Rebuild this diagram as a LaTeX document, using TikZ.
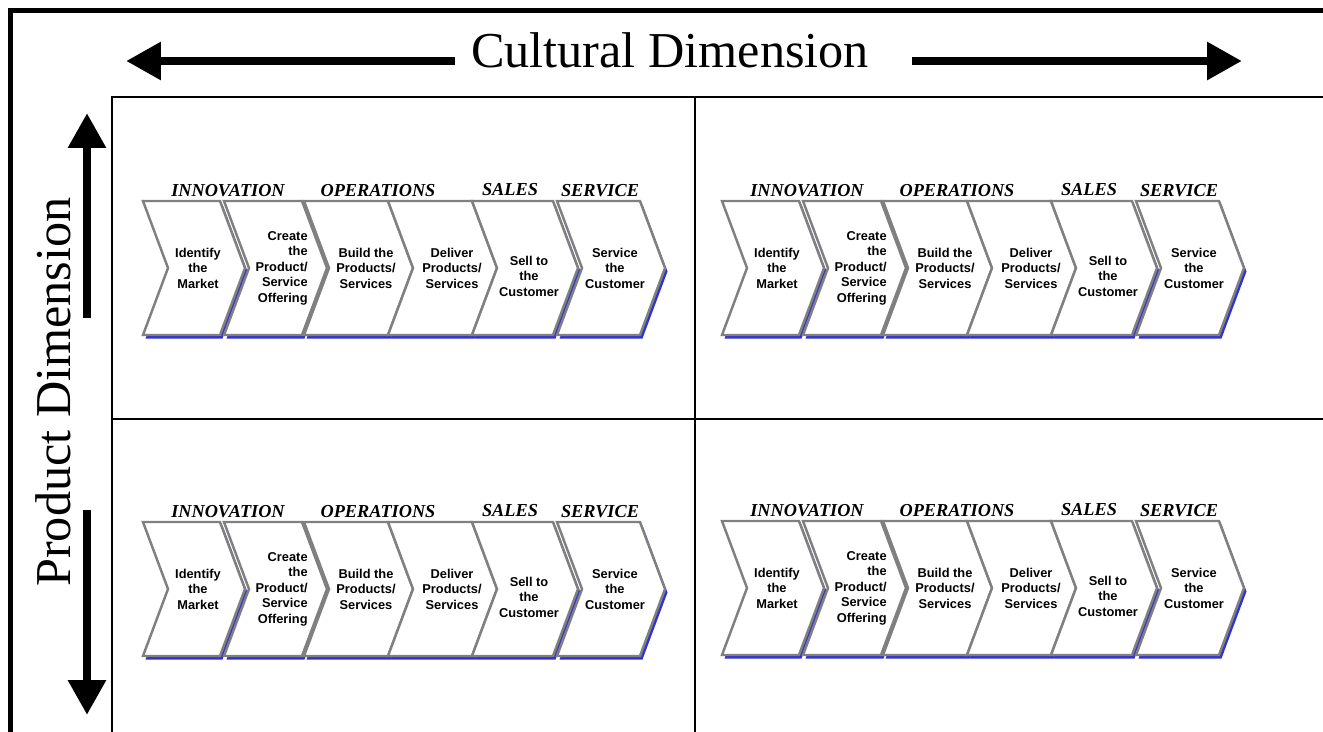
\documentclass[tikz,border=0pt]{standalone}
\usepackage{fontspec}
\setmainfont{Liberation Serif}
\newfontfamily\chevfont{Liberation Sans}
\usepackage{tikz}
\usetikzlibrary{arrows.meta}

\definecolor{chevgray}{HTML}{808080}
\definecolor{chevblue}{HTML}{3333CC}

% one chevron: top-left x, top-right x
\newcommand{\chevron}[2]{%
  \fill[chevblue, shift={(2.5,3.5)}] (#1,201) -- (#2,201) -- (#2+25,268) -- (#2,335) -- (#1,335) -- (#1+25,268) -- cycle;
  \filldraw[chevbox] (#1,201) -- (#2,201) -- (#2+25,268) -- (#2,335) -- (#1,335) -- (#1+25,268) -- cycle;}

\begin{document}
\begin{tikzpicture}[
        x=0.02cm, y=-0.02cm,
        frame/.style={line width=2.55pt},
        grid/.style={line width=0.85pt},
        dimarrow/.style={line width=5.1pt, -{Triangle[length=19.8pt, width=20.4pt]}},
        dimlabel/.style={font=\fontsize{28.6}{34}\selectfont, inner sep=0pt},
        stage/.style={font=\fontsize{10.4}{12}\selectfont\bfseries\itshape, anchor=base, inner sep=0pt},
        chevbox/.style={draw=chevgray, fill=white, line width=1.4pt},
        activity/.style={font=\chevfont\bfseries\fontsize{7.3}{8.8}\selectfont, align=center, inner sep=0pt}
    ]
        \useasboundingbox (0,0) rectangle (1323,731);

        % frame and quadrants
        \draw[frame] (10.5,740) -- (10.5,10.5) -- (1330,10.5);
        \draw[grid] (112,740) -- (112,97) -- (1330,97);
        \draw[grid] (695,97) -- (695,740);
        \draw[grid] (112,419) -- (1330,419);

        % dimensions
        \node[dimlabel] (cult) at (670,50) {Cultural Dimension};
        \coordinate (cultLs) at (455,61);
        \coordinate (cultLe) at (126,61);
        \coordinate (cultRs) at (912,61);
        \coordinate (cultRe) at (1242,61);
        \draw[dimarrow] (cultLs) -- (cultLe);
        \draw[dimarrow] (cultRs) -- (cultRe);

        \node[dimlabel, rotate=90] (prod) at (53,392) {Product Dimension};
        \coordinate (prodUs) at (87,318);
        \coordinate (prodUe) at (87,113);
        \coordinate (prodDs) at (87,510);
        \coordinate (prodDe) at (87,715);
        \draw[dimarrow] (prodUs) -- (prodUe);
        \draw[dimarrow] (prodDs) -- (prodDe);

        % value chains, one per quadrant
        \foreach \px/\py/\p in {0/0/a, 579/0/b, 0/321/c, 579/320/d} {
            \begin{scope}[shift={(\px,\py)}]
                \chevron{143}{220}
                \chevron{224}{302}
                \chevron{304}{388}
                \chevron{388}{472}
                \chevron{472}{553}
                \chevron{557}{640}
                \node[stage] (inno-\p) at (228,196) {INNOVATION};
                \node[stage] (oper-\p) at (378,196) {OPERATIONS};
                \node[stage] (sales-\p) at (510,195) {SALES};
                \node[stage] (servc-\p) at (600,196) {SERVICE};
                \node[activity] (ident-\p) at (198,268) {Identify\\the\\Market};
                \node[activity, align=right, anchor=east] (create-\p) at (308,268) {Create\\the\\Product/\\Service\\Offering};
                \node[activity] (build-\p) at (366,268) {Build the\\Products/\\Services};
                \node[activity] (deliv-\p) at (452,268) {Deliver\\Products/\\Services};
                \node[activity] (sell-\p) at (529,276) {Sell to\\the\\Customer};
                \node[activity] (serv-\p) at (615,268) {Service\\the\\Customer};
            \end{scope}
        }
    \end{tikzpicture}
\end{document}
